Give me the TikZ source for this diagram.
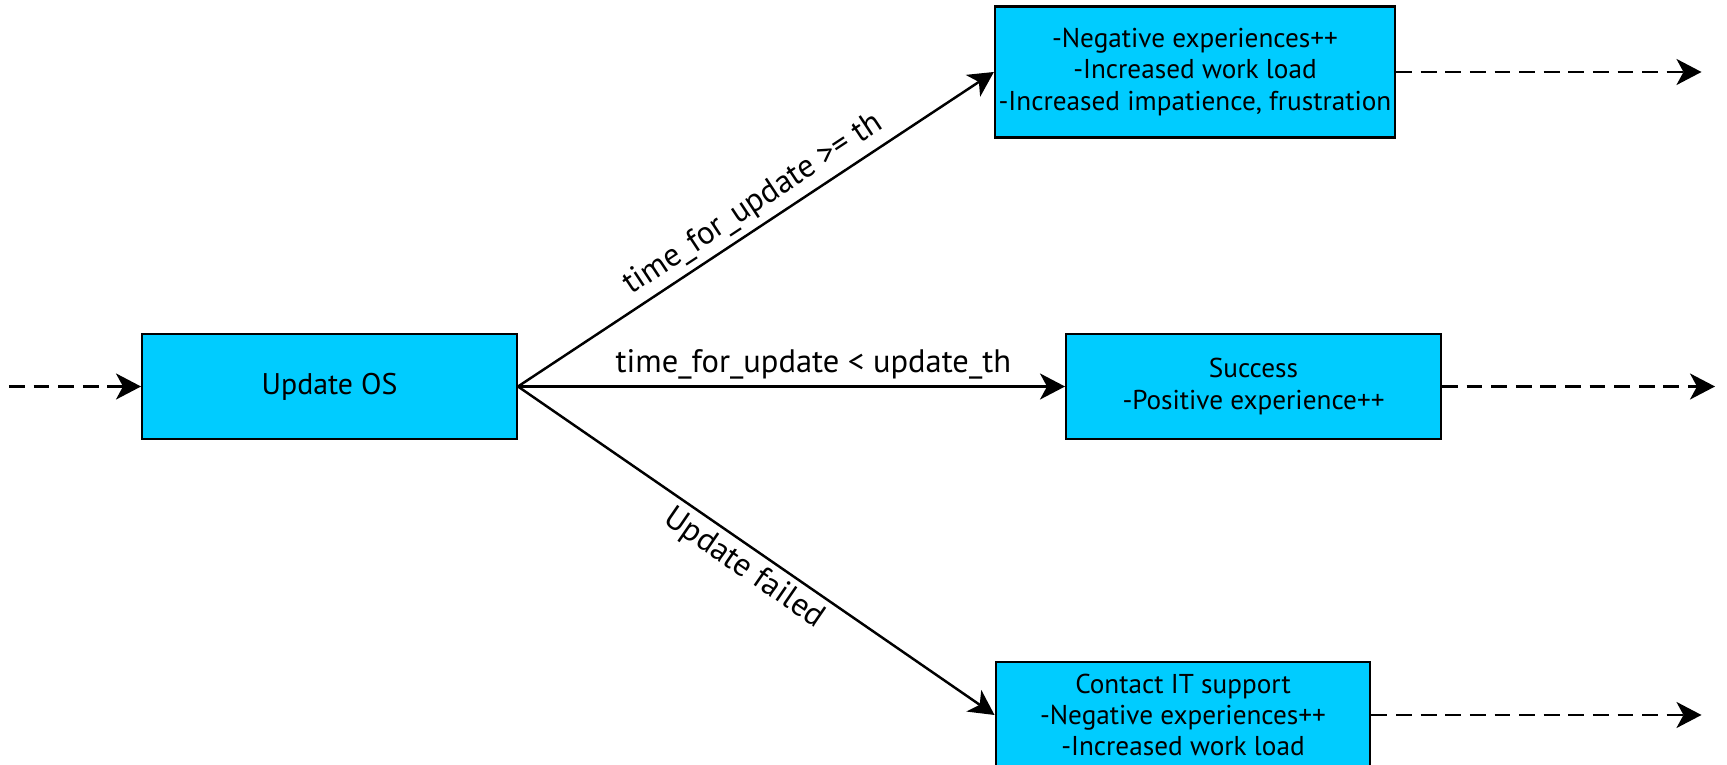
\documentclass[tikz,border=0pt]{standalone}
\usepackage{fontspec}
\setmainfont{PT Sans}
\usetikzlibrary{arrows.meta}
\definecolor{boxcyan}{RGB}{0,204,255}

\begin{document}
\begin{tikzpicture}[
    statebox/.style={draw, line width=1.4pt, fill=boxcyan, align=center, inner sep=2pt,
      minimum width=7.49cm, minimum height=2.11cm, font=\fontsize{15.5pt}{17.9pt}\selectfont},
    flow/.style={line width=1.4pt, -{Stealth[length=0.5cm, width=0.52cm, inset=0.14cm]}},
    pass/.style={flow, dash pattern=on 9pt off 5pt},
    cond/.style={font=\fontsize{18.5pt}{20pt}\selectfont}
  ]
    \useasboundingbox (0,0) rectangle (34.54,15.3);

    % Main step
    \node[statebox, font=\fontsize{17pt}{19pt}\selectfont] (update) at (6.59,7.57) {Update OS};
    \coordinate (in) at (0.18,7.57);
    \draw[pass] (in) -- (update);

    % Outcome - too slow
    \node[statebox, minimum width=7.97cm, minimum height=2.62cm] (slow) at (23.90,13.86)
      {-Negative experiences++\\-Increased work load\\-Increased impatience, frustration};
    \coordinate (slowout) at (34.03,13.86);
    \draw[pass] (slow) -- (slowout);

    % Outcome - success
    \node[statebox] (ok) at (25.07,7.57) {Success\\-Positive experience++};
    \coordinate (okout) at (34.30,7.57);
    \draw[pass] (ok) -- (okout);

    % Outcome - failed
    \node[statebox] (fail) at (23.66,1.0)
      {Contact IT support\\-Negative experiences++\\-Increased work load};
    \coordinate (failout) at (34.03,1.0);
    \draw[pass] (fail) -- (failout);

    % Branches
    \draw[flow] (update.east) -- node[cond, above, sloped, pos=0.52] {time\_for\_update >= th} (slow.west);
    \draw[flow] (update.east) -- node[cond, above, pos=0.54] {time\_for\_update < update\_th} (ok.west);
    \draw[flow] (update.east) -- node[cond, below, sloped, pos=0.5] {Update failed} (fail.west);
  \end{tikzpicture}
\end{document}
